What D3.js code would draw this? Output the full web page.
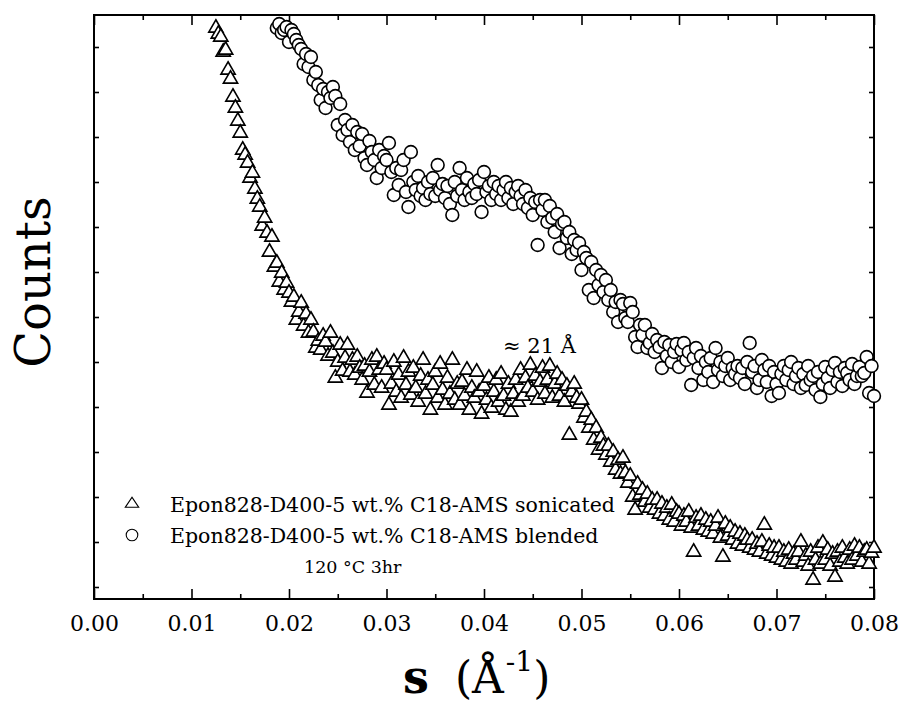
<!DOCTYPE html>
<html><head><meta charset="utf-8">
<script src="https://cdn.jsdelivr.net/npm/d3@7"></script>
<style>
body{margin:0;background:#fff}
svg text{font-family:"DejaVu Serif",serif;fill:#000}
</style>
</head><body>
<svg id="chart" width="899" height="703"></svg>
<script>
// SAXS scans: intensity (arbitrary counts) on a fixed s grid (Å⁻¹)
const S_STEP = 0.00025;
const SONICATED_S0 = 0.0125;
const BLENDED_S0 = 0.01875;

const sonicatedCounts = [
 571,565,562,547,549,529,520,502,491,478,
 466,449,444,436,421,426,410,400,392,373,
 381,366,347,362,332,336,317,326,309,316,
 306,297,302,279,287,296,273,285,266,279,
 267,251,258,249,263,257,243,266,246,221,
 237,254,228,241,254,227,239,224,242,231,
 219,233,206,227,239,214,242,229,211,235,
 229,194,215,237,207,224,201,241,214,227,
 204,231,211,197,223,239,205,219,189,214,
 227,201,235,209,194,221,205,239,199,215,
 194,217,203,229,189,211,201,227,207,185,
 213,199,221,191,207,219,197,225,203,189,
 215,187,205,219,197,229,203,221,211,234,
 207,223,199,217,231,205,219,233,201,215,
 225,203,219,197,213,164,207,215,201,195,
 199,181,187,171,179,159,171,149,161,153,
 144,153,137,147,129,139,125,141,126,116,
 123,102,89,115,104,109,97,105,91,99,
 89,99,85,95,83,91,79,94,77,87,
 85,73,83,77,87,71,47,81,73,83,
 69,79,67,77,65,73,81,61,42,75,
 63,71,59,67,55,65,53,63,59,51,
 59,49,55,47,57,74,45,53,43,51,
 41,51,39,47,37,49,35,45,39,47,
 57,37,43,33,47,19,39,51,35,56,
 39,49,33,45,22,47,37,51,41,35,
 49,39,53,43,51,37,47,49,35,46,51
];

const blendedCounts = [
 571,575,566,569,572,557,569,565,559,554,
 550,535,545,532,542,519,527,514,499,510,
 491,507,501,512,503,474,495,464,479,469,
 457,474,449,467,453,465,441,434,458,447,
 439,421,449,431,443,439,456,427,404,431,
 414,429,439,407,392,447,417,409,423,403,
 411,399,417,405,421,403,434,409,415,401,
 413,395,384,417,403,431,409,399,421,407,
 401,415,405,419,387,427,407,413,399,417,
 405,413,399,409,417,401,411,395,407,413,
 403,395,409,391,401,384,397,354,399,389,
 399,377,393,381,367,385,351,375,377,361,
 367,345,359,349,356,329,347,341,309,337,
 301,329,314,324,307,319,299,309,287,297,
 277,299,295,281,277,296,287,262,252,274,
 264,274,251,256,265,247,259,252,231,257,
 243,254,237,247,255,232,249,256,239,247,
 214,241,251,231,243,219,237,227,241,217,
 251,229,237,223,233,241,219,231,225,233,
 221,231,215,237,256,227,233,211,219,239,
 229,217,233,203,227,215,206,225,233,219,
 229,237,215,223,231,211,225,214,233,219,
 223,209,227,202,215,232,221,211,229,236,
 217,227,213,231,226,219,235,215,223,232,
 223,226,242,206,233,203
];

const xMajorTicks = [0, 0.01, 0.02, 0.03, 0.04, 0.05, 0.06, 0.07, 0.08];
const xMinorTicks = [0.005, 0.015, 0.025, 0.035, 0.045, 0.055, 0.065, 0.075];
const yTicks = [12, 57, 102, 147, 192, 237, 282, 327, 372, 417, 462, 507, 552];
const legendLabels = [
  "Epon828-D400-5 wt.% C18-AMS sonicated",
  "Epon828-D400-5 wt.% C18-AMS blended"
];
const legendNote = "120 °C 3hr";
const peakNote = "≈ 21 Å";

const sonicated = sonicatedCounts.map((c, i) => ({s: SONICATED_S0 + i * S_STEP, c}));
const blended = blendedCounts.map((c, i) => ({s: BLENDED_S0 + i * S_STEP, c}));

const svg = d3.select("#chart");
const L = 94, R = 874, T = 15, B = 599;

const x = d3.scaleLinear().domain([0, 0.08]).range([L, R]);
const y = d3.scaleLinear().domain([0, 584]).range([B, T]);

svg.append("rect").attr("width", 899).attr("height", 703).attr("fill", "#fff");

// ticks, all pointing inward
function styleAxis(g) {
  g.select(".domain").remove();
  g.selectAll(".tick line").attr("stroke", "#000").attr("stroke-width", 1.6);
}
svg.append("g").attr("transform", `translate(0,${B})`)
  .call(d3.axisBottom(x).tickValues(xMajorTicks).tickSize(-10).tickPadding(16)
    .tickFormat(d3.format(".2f")))
  .call(styleAxis)
  .call(g => g.selectAll("text").attr("font-size", 22).attr("font-family", "DejaVu Serif"));
svg.append("g").attr("transform", `translate(0,${B})`)
  .call(d3.axisBottom(x).tickValues(xMinorTicks).tickSize(-5).tickFormat(""))
  .call(styleAxis);
svg.append("g").attr("transform", `translate(0,${T})`)
  .call(d3.axisTop(x).tickValues(xMajorTicks).tickSize(-10).tickFormat(""))
  .call(styleAxis);
svg.append("g").attr("transform", `translate(0,${T})`)
  .call(d3.axisTop(x).tickValues(xMinorTicks).tickSize(-5).tickFormat(""))
  .call(styleAxis);
svg.append("g").attr("transform", `translate(${L},0)`)
  .call(d3.axisLeft(y).tickValues(yTicks).tickSize(-5).tickFormat(""))
  .call(styleAxis);
svg.append("g").attr("transform", `translate(${R},0)`)
  .call(d3.axisRight(y).tickValues(yTicks).tickSize(-5).tickFormat(""))
  .call(styleAxis);

// frame
svg.append("rect").attr("x", L).attr("y", T).attr("width", R - L).attr("height", B - T)
  .attr("fill", "none").attr("stroke", "#000").attr("stroke-width", 2);

// data
const tri = d3.symbol(d3.symbolTriangle, 88);
svg.append("g").selectAll("path").data(sonicated).join("path")
  .attr("d", tri)
  .attr("transform", d => `translate(${x(d.s)},${y(d.c)})`)
  .attr("fill", "#fff").attr("stroke", "#000").attr("stroke-width", 1.6);

svg.append("g").selectAll("circle").data(blended).join("circle")
  .attr("cx", d => x(d.s)).attr("cy", d => y(d.c)).attr("r", 6.4)
  .attr("fill", "#fff").attr("stroke", "#000").attr("stroke-width", 1.6);

// annotation
svg.append("text").attr("x", 503).attr("y", 353).attr("font-size", 21).text(peakNote);

// legend
const leg = svg.append("g");
leg.append("path").attr("d", d3.symbol(d3.symbolTriangle, 64))
  .attr("transform", "translate(132,504) scale(1.1,0.95)")
  .attr("fill", "#fff").attr("stroke", "#000").attr("stroke-width", 1.1);
leg.append("circle").attr("cx", 132).attr("cy", 535).attr("r", 5.8)
  .attr("fill", "#fff").attr("stroke", "#000").attr("stroke-width", 1.1);
leg.append("text").attr("x", 170).attr("y", 512).attr("font-size", 20.5).text(legendLabels[0]);
leg.append("text").attr("x", 170).attr("y", 543).attr("font-size", 20.5).text(legendLabels[1]);
leg.append("text").attr("x", 304).attr("y", 573).attr("font-size", 17.5).text(legendNote);

// axis titles
svg.append("text").attr("transform", "translate(50,282) rotate(-90)")
  .attr("text-anchor", "middle").attr("font-size", 48).text("Counts");

const xt = svg.append("text").attr("x", 403).attr("y", 693);
xt.append("tspan").attr("font-size", 46).attr("font-weight", "bold").text("s");
xt.append("tspan").attr("dx", 26).attr("font-size", 44).text("(Å");
xt.append("tspan").attr("font-size", 28).attr("dx", 2).attr("dy", -22).text("-1");
xt.append("tspan").attr("font-size", 44).attr("dy", 22).text(")");
</script>
</body></html>
